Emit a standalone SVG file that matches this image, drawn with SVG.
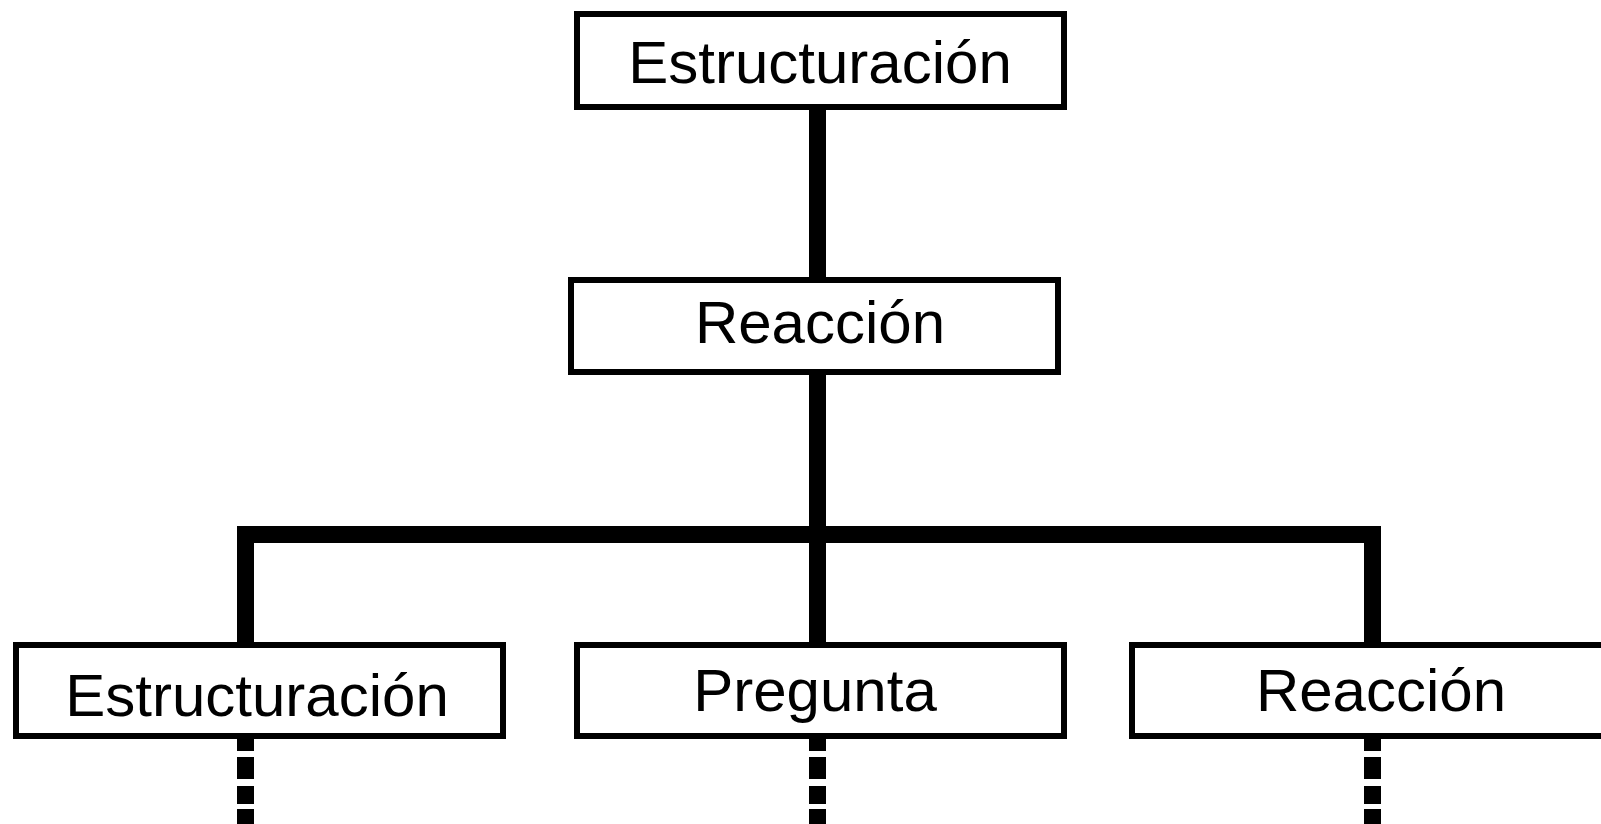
<svg xmlns="http://www.w3.org/2000/svg" width="1601" height="824" viewBox="0 0 1601 824">
<style>
.box{fill:#fff;stroke:#000;stroke-width:6}
.lbl{font-family:"Liberation Sans",Arial,sans-serif;font-size:60px;fill:#000;text-anchor:middle}
.bar{fill:#000}
</style>
<rect width="1601" height="824" fill="#fff"/>
<g id="connectors">
<rect class="bar" x="809" y="108" width="17" height="172"/>
<rect class="bar" x="809" y="372" width="17" height="171"/>
<rect class="bar" x="237" y="526" width="1144" height="17"/>
<rect class="bar" x="237" y="526" width="17" height="119"/>
<rect class="bar" x="809" y="526" width="17" height="119"/>
<rect class="bar" x="1364" y="526" width="17" height="119"/>
<g id="dash-left">
<rect class="bar" x="237" y="736" width="17" height="15"/>
<rect class="bar" x="237" y="757" width="17" height="22"/>
<rect class="bar" x="237" y="786" width="17" height="18"/>
<rect class="bar" x="237" y="809" width="17" height="15"/>
</g>
<g id="dash-mid">
<rect class="bar" x="809" y="736" width="17" height="15"/>
<rect class="bar" x="809" y="757" width="17" height="22"/>
<rect class="bar" x="809" y="786" width="17" height="18"/>
<rect class="bar" x="809" y="809" width="17" height="15"/>
</g>
<g id="dash-right">
<rect class="bar" x="1364" y="736" width="17" height="15"/>
<rect class="bar" x="1364" y="757" width="17" height="22"/>
<rect class="bar" x="1364" y="786" width="17" height="18"/>
<rect class="bar" x="1364" y="809" width="17" height="15"/>
</g>
</g>
<g id="node-top">
<rect class="box" x="577" y="14" width="487" height="93"/>
<text class="lbl" x="820" y="83">Estructuración</text>
</g>
<g id="node-reaccion">
<rect class="box" x="571" y="280" width="487" height="92"/>
<text class="lbl" x="820" y="343">Reacción</text>
</g>
<g id="node-estructuracion2">
<rect class="box" x="16" y="645" width="487" height="91"/>
<text class="lbl" x="257" y="716">Estructuración</text>
</g>
<g id="node-pregunta">
<rect class="box" x="577" y="645" width="487" height="91"/>
<text class="lbl" x="815" y="711">Pregunta</text>
</g>
<g id="node-reaccion2">
<rect class="box" x="1132" y="645" width="490" height="91"/>
<text class="lbl" x="1381" y="711">Reacción</text>
</g>
</svg>
